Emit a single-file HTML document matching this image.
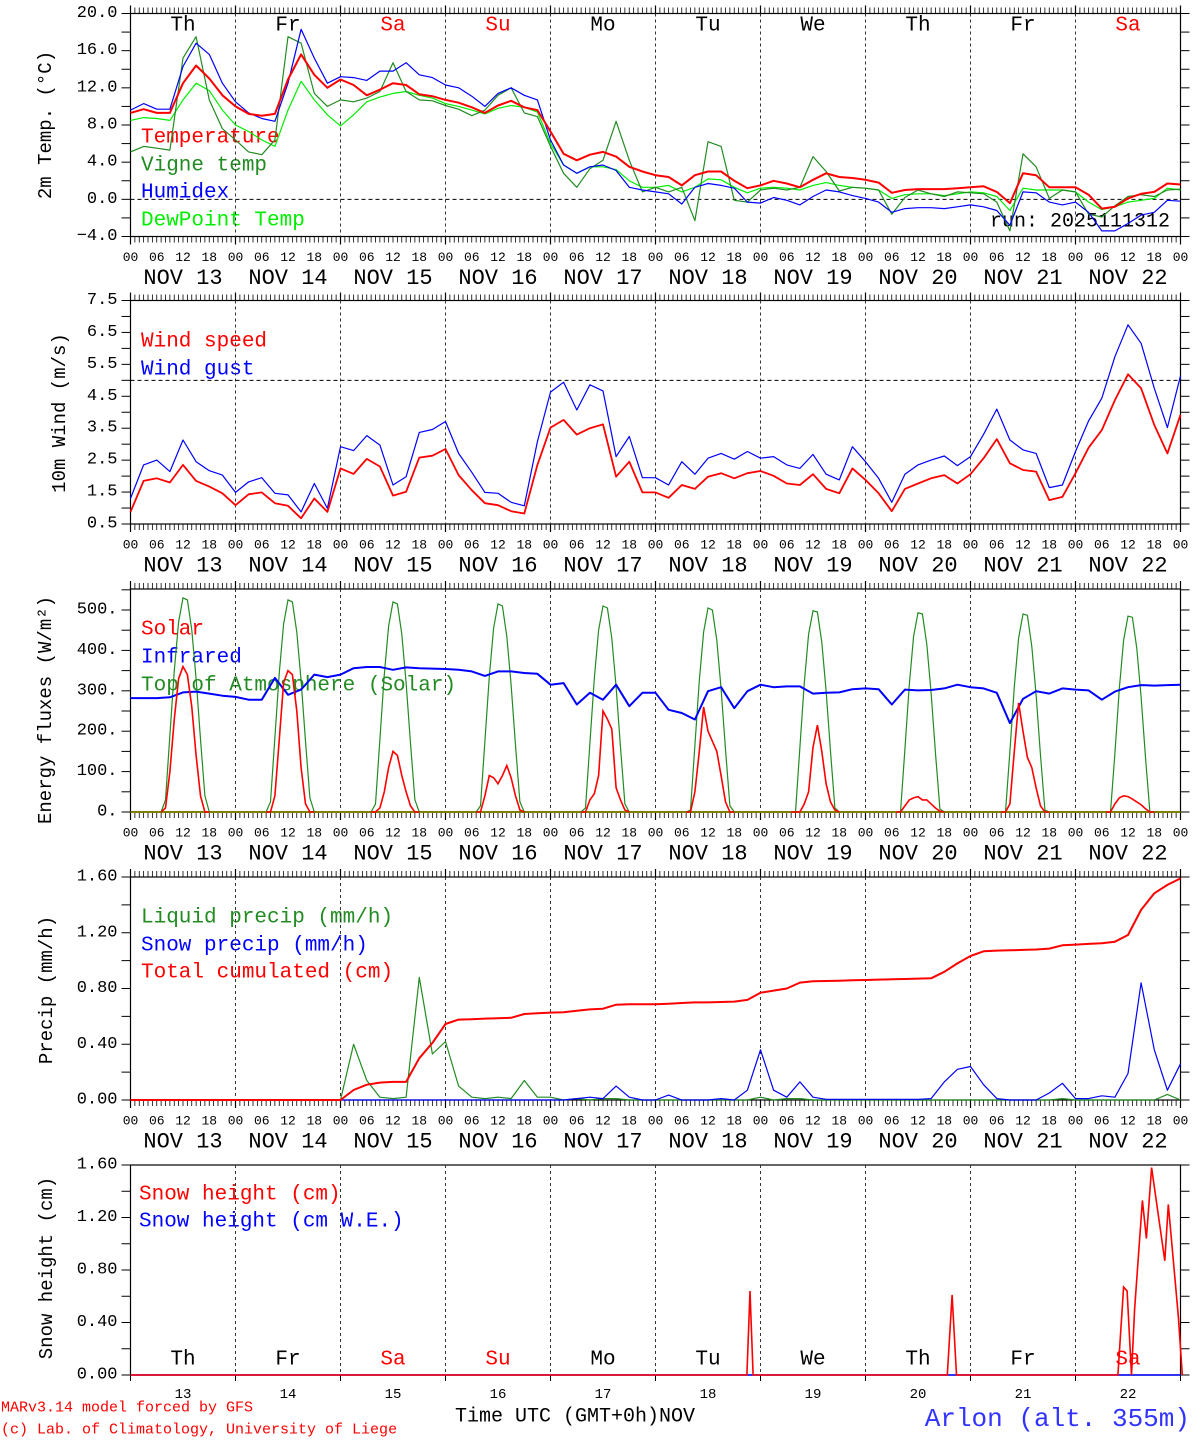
<!DOCTYPE html>
<html><head><meta charset="utf-8">
<style>
html,body{margin:0;padding:0;background:#fff;}
svg{display:block;font-family:"Liberation Mono",monospace;}
</style></head>
<body>
<svg id="chart" width="1194" height="1440" viewBox="0 0 1194 1440" xmlns="http://www.w3.org/2000/svg">
<g id="static" font-family="Liberation Mono, monospace">
  <text x="141" y="138" font-size="21" fill="#ff0000" dominant-baseline="central">Temperature</text>
  <text x="141" y="166" font-size="21" fill="#228b22" dominant-baseline="central">Vigne temp</text>
  <text x="141" y="193" font-size="21" fill="#0000ff" dominant-baseline="central">Humidex</text>
  <text x="141" y="221" font-size="21" fill="#00ee00" dominant-baseline="central">DewPoint Temp</text>
  <text x="1170" y="222" font-size="20" fill="#000" text-anchor="end" dominant-baseline="central">run: 2025111312</text>
  <text x="141" y="342" font-size="21" fill="#ff0000" dominant-baseline="central">Wind speed</text>
  <text x="141" y="370" font-size="21" fill="#0000ff" dominant-baseline="central">Wind gust</text>
  <text x="141" y="630" font-size="21" fill="#ff0000" dominant-baseline="central">Solar</text>
  <text x="141" y="658" font-size="21" fill="#0000ff" dominant-baseline="central">Infrared</text>
  <text x="141" y="686" font-size="21" fill="#228b22" dominant-baseline="central">Top of Atmosphere (Solar)</text>
  <text x="141" y="918" font-size="21" fill="#228b22" dominant-baseline="central">Liquid precip (mm/h)</text>
  <text x="141" y="946" font-size="21" fill="#0000ff" dominant-baseline="central">Snow precip (mm/h)</text>
  <text x="141" y="973" font-size="21" fill="#ff0000" dominant-baseline="central">Total cumulated (cm)</text>
  <text x="139" y="1195" font-size="21" fill="#ff0000" dominant-baseline="central">Snow height (cm)</text>
  <text x="139" y="1222" font-size="21" fill="#0000ff" dominant-baseline="central">Snow height (cm W.E.)</text>
  <text transform="translate(46,125) rotate(-90)" font-size="19" text-anchor="middle" dominant-baseline="central">2m Temp. (°C)</text>
  <text transform="translate(60,413) rotate(-90)" font-size="19" text-anchor="middle" dominant-baseline="central">10m Wind (m/s)</text>
  <text transform="translate(46,710) rotate(-90)" font-size="19" text-anchor="middle" dominant-baseline="central">Energy fluxes (W/m²)</text>
  <text transform="translate(47,990) rotate(-90)" font-size="19" text-anchor="middle" dominant-baseline="central">Precip (mm/h)</text>
  <text transform="translate(47,1268) rotate(-90)" font-size="19" text-anchor="middle" dominant-baseline="central">Snow height (cm)</text>
  <text x="1" y="1408" font-size="15" fill="#ff0000" dominant-baseline="central">MARv3.14 model forced by GFS</text>
  <text x="1" y="1430" font-size="15" fill="#ff0000" dominant-baseline="central">(c) Lab. of Climatology, University of Liege</text>
  <text x="455" y="1417" font-size="20" fill="#000" dominant-baseline="central">Time UTC (GMT+0h)NOV</text>
  <text x="1190" y="1419" font-size="26" fill="#3333ff" text-anchor="end" dominant-baseline="central">Arlon (alt. 355m)</text>
</g>
<g id="dyn"></g>
</svg>
<script>
const stepHours = 3;
const dayNames = ["Th","Fr","Sa","Su","Mo","Tu","We","Th","Fr","Sa"];
const dayNums = ["13","14","15","16","17","18","19","20","21","22"];
const hourLabels = ["00","06","12","18"];

const tempVals = [9.3,9.7,9.3,9.3,12.5,14.4,13.0,11.2,10.0,9.2,9.0,9.2,12.9,15.6,13.4,12.0,12.9,12.3,11.2,11.8,12.5,12.3,11.3,11.1,10.7,10.4,9.9,9.3,10.1,10.6,9.9,9.6,7.3,4.9,4.2,4.8,5.1,4.6,3.5,3.0,2.6,2.4,1.5,2.6,3.0,3.0,2.0,1.2,1.5,2.0,1.7,1.3,2.1,2.8,2.4,2.3,2.1,1.8,0.7,1.0,1.1,1.1,1.1,1.2,1.3,1.4,0.8,-0.4,2.8,2.6,1.3,1.3,1.3,0.5,-1.0,-0.8,0.1,0.6,0.8,1.7,1.6];
const vigneVals = [5.1,5.7,5.5,5.3,15.2,17.5,10.7,7.6,6.4,5.1,4.8,6.4,17.5,16.8,11.4,10.0,10.7,10.5,10.9,11.6,14.7,11.6,10.7,10.6,10.1,9.7,9.0,9.6,11.2,12.0,9.3,8.9,5.7,2.8,1.3,3.3,4.2,8.4,4.2,0.8,1.3,0.8,1.3,-2.3,6.2,5.7,-0.1,-0.3,1.0,1.2,1.0,1.3,4.6,3.0,0.9,1.3,1.2,1.0,-1.6,0.2,1.0,0.6,0.3,0.8,0.7,0.6,-0.3,-3.4,4.9,3.5,0.1,1.0,0.8,-1.6,-1.9,-0.7,0.3,0.5,0.3,1.0,1.1];
const humidexVals = [9.6,10.3,9.7,9.7,14.3,16.8,15.6,12.5,10.5,9.3,8.7,8.4,12.5,18.3,15.2,12.5,13.2,13.1,12.8,13.8,13.8,14.7,13.4,13.1,12.3,12.0,11.1,10.0,11.4,12.0,11.2,10.7,6.4,3.7,2.8,3.5,3.7,3.1,1.3,1.0,0.8,0.6,-0.5,1.3,1.7,1.5,1.2,-0.3,-0.4,0.2,-0.1,-0.6,0.3,1.0,0.8,0.4,0.1,-0.3,-1.4,-1.0,-0.9,-0.9,-1.0,-0.8,-0.6,-0.8,-1.2,-2.8,0.8,0.7,-0.3,-0.6,-0.3,-1.4,-3.4,-3.4,-2.6,-1.7,-1.4,-0.1,-0.2];
const dewVals = [8.5,8.8,8.7,8.5,10.7,12.5,11.7,9.6,8.0,7.3,6.4,5.7,9.6,12.7,10.7,9.1,7.9,9.1,10.5,11.0,11.4,11.6,11.2,10.9,10.3,10.0,9.6,9.2,9.8,10.1,9.9,9.4,6.0,3.7,2.8,3.5,3.5,3.2,2.0,1.3,1.3,1.5,0.8,1.3,2.2,2.1,1.3,0.7,1.2,1.3,1.2,1.0,1.5,1.8,1.5,1.3,1.2,1.0,0.1,0.5,0.6,0.6,0.4,0.6,0.8,0.7,0.3,-1.2,1.2,1.0,1.0,1.0,0.8,-0.3,-1.1,-0.8,-0.3,-0.1,0.1,1.2,1.0];

const windVals = [0.88,1.85,1.93,1.8,2.35,1.85,1.67,1.46,1.09,1.43,1.49,1.15,1.07,0.68,1.3,0.88,2.24,2.07,2.54,2.3,1.39,1.51,2.58,2.64,2.85,2.03,1.56,1.15,1.09,0.9,0.83,2.35,3.52,3.76,3.3,3.5,3.62,1.98,2.45,1.49,1.49,1.32,1.72,1.6,1.98,2.09,1.93,2.09,2.16,2.01,1.77,1.72,2.06,1.6,1.46,2.24,1.88,1.46,0.9,1.6,1.77,1.93,2.03,1.77,2.06,2.56,3.16,2.4,2.19,2.14,1.25,1.35,2.09,2.89,3.44,4.38,5.19,4.75,3.6,2.71,3.92];
const gustVals = [1.3,2.35,2.5,2.14,3.13,2.45,2.17,2.03,1.49,1.82,1.95,1.46,1.41,0.88,1.77,0.99,2.92,2.8,3.27,2.97,1.72,1.98,3.37,3.46,3.71,2.71,2.12,1.49,1.46,1.18,1.07,3.08,4.63,4.94,4.07,4.86,4.67,2.61,3.24,1.95,1.95,1.72,2.45,2.06,2.56,2.71,2.53,2.77,2.56,2.61,2.35,2.24,2.68,2.06,1.88,2.92,2.45,1.93,1.18,2.06,2.35,2.5,2.63,2.33,2.61,3.31,4.1,3.13,2.82,2.71,1.64,1.72,2.77,3.73,4.44,5.74,6.74,6.16,4.75,3.52,5.14];

const infraredVals = [282,282,282,284,296,298,293,288,285,278,278,332,290,303,340,334,340,356,359,359,352,358,356,355,354,352,348,337,348,348,344,342,315,319,266,295,278,315,262,295,295,253,245,229,299,309,257,299,315,309,311,311,293,295,296,304,306,304,266,303,301,302,306,315,309,306,295,220,280,299,293,306,303,301,278,298,309,314,313,314,315];

const dayHours = [7,8,9,10,11,12,13,14,15,16,17,18];
const solarByDay = [
  [0,10,100,230,330,360,340,260,140,40,0,0],
  [0,0,40,180,320,350,340,250,110,20,0,0],
  [0,0,10,50,110,150,140,90,50,15,0,0],
  [0,0,40,90,85,70,90,115,85,40,5,0],
  [0,0,30,45,90,250,230,205,60,30,5,0],
  [0,0,50,150,260,200,175,150,90,25,0,0],
  [0,0,0,20,50,160,215,150,70,25,5,0],
  [0,0,15,30,35,38,30,30,20,10,2,0],
  [0,0,20,150,270,200,135,110,60,15,0,0],
  [0,0,20,35,40,38,32,25,18,8,0,0]
];
const toaByDay = [
  [0,30,190,350,470,530,525,450,330,180,40,0],
  [0,25,185,345,465,525,520,445,325,175,35,0],
  [0,20,180,340,460,520,515,440,320,170,30,0],
  [0,15,175,335,455,515,510,435,315,165,25,0],
  [0,10,170,330,450,510,505,430,310,160,20,0],
  [0,5,165,325,445,505,500,425,305,155,15,0],
  [0,0,160,320,440,498,495,420,300,150,10,0],
  [0,0,155,315,435,493,490,415,295,145,8,0],
  [0,0,150,310,430,490,487,410,290,140,5,0],
  [0,0,145,305,425,485,482,405,285,135,0,0]
];

const totalCumVals = [0,0,0,0,0,0,0,0,0,0,0,0,0,0,0,0,0,0.072,0.11,0.125,0.13,0.13,0.30,0.41,0.545,0.577,0.58,0.584,0.586,0.59,0.617,0.622,0.627,0.63,0.64,0.65,0.655,0.684,0.687,0.687,0.687,0.69,0.696,0.70,0.70,0.703,0.706,0.718,0.77,0.785,0.80,0.842,0.852,0.854,0.856,0.859,0.861,0.864,0.866,0.868,0.871,0.873,0.92,0.98,1.033,1.067,1.072,1.074,1.077,1.08,1.086,1.11,1.115,1.12,1.124,1.136,1.184,1.364,1.483,1.543,1.59];
const liquidVals = [0,0,0,0,0,0,0,0,0,0,0,0,0,0,0,0,0,0.40,0.14,0.02,0.01,0.02,0.88,0.33,0.42,0.10,0.02,0.01,0.02,0.01,0.14,0.02,0.02,0,0.01,0,0.01,0.01,0,0,0,0,0,0,0,0,0,0,0.02,0,0.01,0.01,0,0,0,0,0,0,0,0,0,0,0,0,0,0,0,0,0,0,0,0.01,0,0,0,0,0,0,0,0.04,0];
const snowPrecipVals = [0,0,0,0,0,0,0,0,0,0,0,0,0,0,0,0,0,0,0,0,0,0,0,0,0,0,0,0,0,0,0,0,0,0,0.01,0.02,0.01,0.10,0.02,0,0,0.035,0,0,0,0.01,0,0.07,0.36,0.07,0.02,0.13,0.02,0.005,0.005,0.005,0.005,0.005,0.005,0.005,0.005,0.01,0.13,0.22,0.24,0.11,0.01,0,0,0,0.05,0.12,0.01,0.01,0.03,0.02,0.19,0.84,0.36,0.07,0.26];

const snowHours = [0,140.9,141.6,142.3,186.7,187.8,188.8,225.7,227.0,227.8,228.8,229.5,231.3,232.2,233.4,236.4,237.2,239.5,240.4];
const snowHeightVals = [0,0,0.64,0,0,0.61,0,0,0.67,0.64,0,0.5,1.33,1.04,1.58,0.87,1.30,0.45,0];

const NS = "http://www.w3.org/2000/svg";
const dyn = document.getElementById("dyn");
const X0 = 130.5, PXH = 4.375, XR = 1180.5;
function X(h){ return X0 + h*PXH; }
const panels = [
  {name:"temp",  top:13.5, bot:236.5, min:-4, max:20},
  {name:"wind",  top:300.5, bot:524, min:0.5, max:7.5},
  {name:"energy",top:589, bot:812, min:0, max:552},
  {name:"precip",top:877, bot:1100, min:0, max:1.6},
  {name:"snow",  top:1165, bot:1375, min:0, max:1.6}
];
function Y(p,v){ return p.bot - (v-p.min)/(p.max-p.min)*(p.bot-p.top); }

function mk(tag, attrs, name){
  const el = document.createElementNS(NS, tag);
  for (const k in attrs) el.setAttribute(k, attrs[k]);
  
  
  dyn.appendChild(el);
  return el;
}
function line(x1,y1,x2,y2,stroke,w,dash,name){
  const a = {x1:x1,y1:y1,x2:x2,y2:y2,stroke:stroke,"stroke-width":w};
  if (dash) a["stroke-dasharray"] = dash;
  return mk("line", a, name);
}
function txt(x,y,s,size,fill,anchor,name){
  const t = mk("text",{x:x,y:y,"font-size":size,fill:fill,"text-anchor":anchor||"start","dominant-baseline":"central"}, name);
  t.textContent = s;
  return t;
}
function series3h(p, vals, color, w, name){
  const pts = vals.map((v,i)=> X(i*stepHours).toFixed(1)+","+Y(p,v).toFixed(1)).join(" ");
  mk("polyline",{points:pts,fill:"none",stroke:color,"stroke-width":w,"stroke-linejoin":"round"}, name);
}

function frame(p, idx, yTicks, yLabels, minorStep){
  mk("rect",{x:X0,y:p.top,width:XR-X0,height:p.bot-p.top,fill:"none",stroke:"#000","stroke-width":1.2}, "plot-frame-"+p.name);
  for (let d=1; d<10; d++){
    line(X(d*24),p.top,X(d*24),p.bot,"#333",1,"3,3","day-gridline-"+p.name);
  }
  if (idx < 4){
    for (let h=0; h<=240; h++){
      const big = h%24===0;
      line(X(h),p.top,X(h),p.top-(big?8:6),"#000",big?1.2:0.8,null,"x-tick-top");
      line(X(h),p.bot,X(h),p.bot+(big?8:6),"#000",big?1.2:0.8,null,"x-tick-bottom");
    }
    for (let h=0; h<=240; h+=6){
      txt(X(h), p.bot+21, hourLabels[(h/6)%4], 13, "#000", "middle", "x-hour-label");
    }
    for (let d=0; d<10; d++){
      txt(X(d*24+12), p.bot+42, "NOV "+dayNums[d], 22, "#000", "middle", "x-date-label");
    }
  } else {
    for (let d=0; d<=10; d++){
      line(X(d*24),p.bot,X(d*24),p.bot+6,"#000",1,null,"x-tick-bottom");
    }
    for (let d=0; d<10; d++){
      txt(X(d*24+12), p.bot+20, dayNums[d], 14, "#000", "middle", "x-day-number");
    }
  }
  for (let v=p.min; v<=p.max+1e-6; v+=minorStep){
    const y = Y(p,v);
    if (y < p.top-0.5) continue;
    line(X0-9,y,X0,y,"#000",1,null,"y-tick-left");
    line(XR,y,XR+9,y,"#000",1,null,"y-tick-right");
  }
  yTicks.forEach((v,i)=>{
    txt(X0-13, Y(p,v), yLabels[i], 17, "#000", "end", "y-tick-label");
  });
}

const p1 = panels[0];
const tempTicks = [20,16,12,8,4,0,-4];
const tempTickLabels = ["20.0","16.0","12.0","8.0","4.0","0.0","\u22124.0"];
frame(p1,0,tempTicks,tempTickLabels,2);
line(X0,Y(p1,0),XR,Y(p1,0),"#000",1,"4,3","zero-line");
dayNames.forEach((s,d)=>{
  txt(X(d*24+12), 26, s, 21, (s==="Sa"||s==="Su")?"#ff0000":"#000", "middle", "weekday-label");
});
series3h(p1, dewVals, "#00ee00", 1.2, "dewpoint-line");
series3h(p1, vigneVals, "#228b22", 1.2, "vigne-temp-line");
series3h(p1, humidexVals, "#0000ff", 1.2, "humidex-line");
series3h(p1, tempVals, "#ff0000", 2, "temperature-line");

const p2 = panels[1];
const windTicks = [7.5,6.5,5.5,4.5,3.5,2.5,1.5,0.5];
const windTickLabels = ["7.5","6.5","5.5","4.5","3.5","2.5","1.5","0.5"];
frame(p2,1,windTicks,windTickLabels,0.5);
line(X0,Y(p2,5),XR,Y(p2,5),"#000",1,"4,3","gust-threshold-line");
series3h(p2, gustVals, "#0000ff", 1.2, "wind-gust-line");
series3h(p2, windVals, "#ff0000", 1.8, "wind-speed-line");

const p3 = panels[2];
const energyTicks = [500,400,300,200,100,0];
const energyTickLabels = ["500.","400.","300.","200.","100.","0."];
frame(p3,2,energyTicks,energyTickLabels,50);
line(X0,Y(p3,0),XR,Y(p3,0),"#808000",2,null,"energy-zero-line");
toaByDay.forEach((arr,d)=>{
  const pts = arr.map((v,i)=> X(d*24+dayHours[i]).toFixed(1)+","+Y(p3,v).toFixed(1)).join(" ");
  mk("polyline",{points:pts,fill:"none",stroke:"#228b22","stroke-width":1.2}, "toa-solar-line");
});
series3h(p3, infraredVals, "#0000ff", 2, "infrared-line");
solarByDay.forEach((arr,d)=>{
  const pts = arr.map((v,i)=> X(d*24+dayHours[i]).toFixed(1)+","+Y(p3,v).toFixed(1)).join(" ");
  mk("polyline",{points:pts,fill:"none",stroke:"#ff0000","stroke-width":1.6}, "solar-line");
});

const p4 = panels[3];
const precipTicks = [1.6,1.2,0.8,0.4,0];
const precipTickLabels = ["1.60","1.20","0.80","0.40","0.00"];
frame(p4,3,precipTicks,precipTickLabels,0.2);
series3h(p4, liquidVals, "#228b22", 1.2, "liquid-precip-line");
series3h(p4, snowPrecipVals, "#0000ff", 1.2, "snow-precip-line");
series3h(p4, totalCumVals, "#ff0000", 2, "total-cumulated-line");

const p5 = panels[4];
frame(p5,4,precipTicks,precipTickLabels,0.2);
dayNames.forEach((s,d)=>{
  txt(X(d*24+12), 1360, s, 21, (s==="Sa"||s==="Su")?"#ff0000":"#000", "middle", "weekday-label-bottom");
});
line(X0,Y(p5,0),XR,Y(p5,0),"#0000ff",1.5,null,"snow-we-line");
{
  const pts = snowHours.map((h,i)=> X(h).toFixed(1)+","+Y(p5,snowHeightVals[i]).toFixed(1)).join(" ");
  mk("polyline",{points:pts,fill:"none",stroke:"#ff0000","stroke-width":1.6}, "snow-height-line");
}
</script>
</body></html>
